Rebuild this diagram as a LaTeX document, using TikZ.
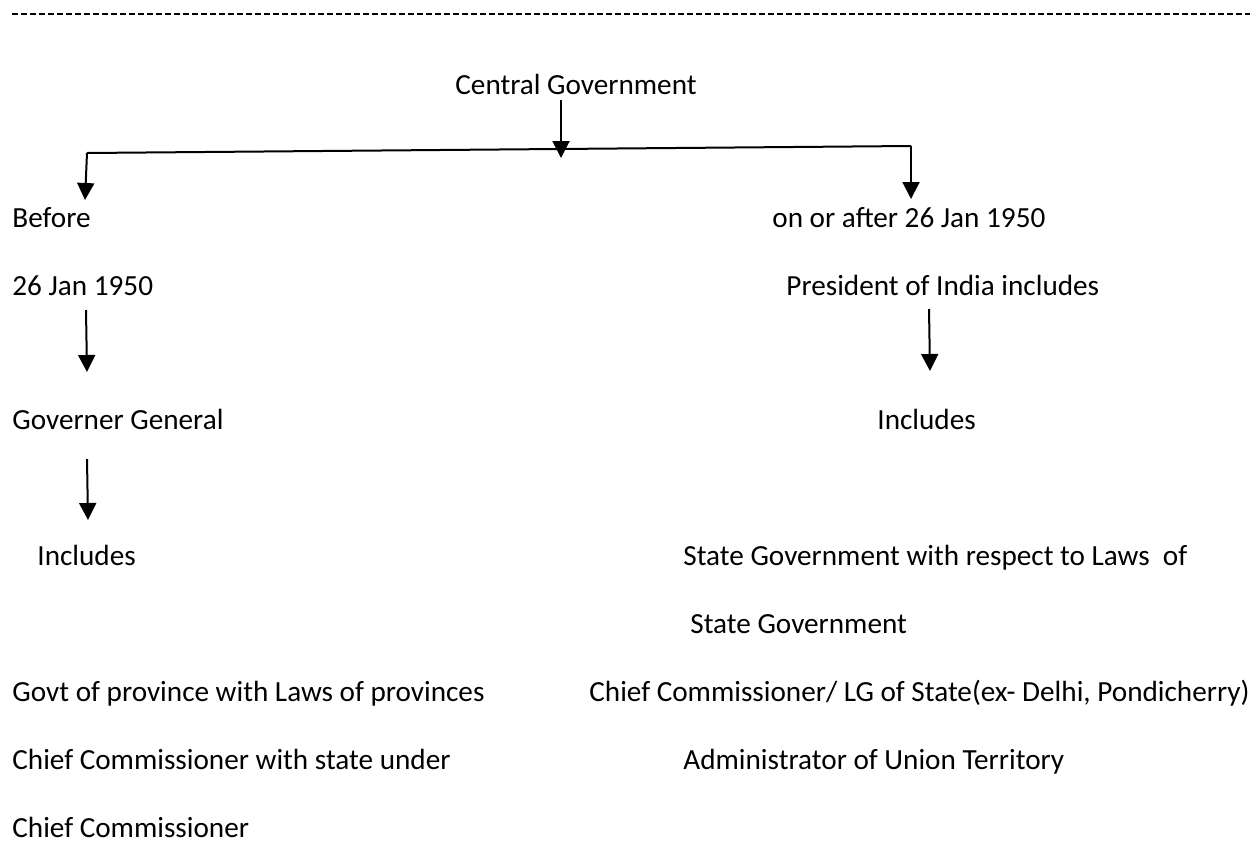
\documentclass[tikz,border=0pt]{standalone}
\usepackage{fontspec}
\setmainfont{Carlito}
\usetikzlibrary{arrows.meta}
\begin{document}
\begin{tikzpicture}[x=0.5pt,y=-0.5pt,
  txt/.style={anchor=base west,inner sep=0pt,font=\fontsize{14.6}{17}\selectfont},
  arr/.style={line width=1pt,-{Triangle[length=8.5pt,width=8.5pt]}}]
\useasboundingbox (0,0) rectangle (1256,846);
\draw[line width=1.1pt,dash pattern=on 3.2pt off 1.3pt] (12,14) -- (1250,14);
\node[txt] (central) at (455,94) {Central Government};
\node[txt] (before) at (12,227) {Before};
\node[txt] (after) at (772,227) {on or after 26 Jan 1950};
\node[txt] (date) at (12,295) {26 Jan 1950};
\node[txt] (president) at (786,295) {President of India includes};
\node[txt] (governor) at (12,429) {Governer General};
\node[txt] (incright) at (877,429) {Includes};
\node[txt] (incleft) at (37,565) {Includes};
\node[txt] (statelaws) at (683,565) {State Government with respect to Laws\ \ of};
\node[txt] (stategov) at (690,633) {State Government};
\node[txt] (province) at (12,701) {Govt of province with Laws of provinces};
\node[txt] (lg) at (589,701) {Chief Commissioner/ LG of State(ex- Delhi, Pondicherry)};
\node[txt] (chiefstate) at (12,769) {Chief Commissioner with state under};
\node[txt] (admin) at (683,769) {Administrator of Union Territory};
\node[txt] (chief) at (12,837) {Chief Commissioner};
% branch line
\coordinate (bl) at (87,153);
\coordinate (br) at (911,146);
\draw[line width=1pt] (bl) -- (br);
\draw[arr] (561,100) -- (561,158);
\draw[arr] (bl) -- (85,200);
\draw[arr] (br) -- (911,199);
\draw[arr] (86,310) -- (87,372);
\draw[arr] (929,309) -- (930,371);
\draw[arr] (87,459) -- (88,520);
\end{tikzpicture}
\end{document}
